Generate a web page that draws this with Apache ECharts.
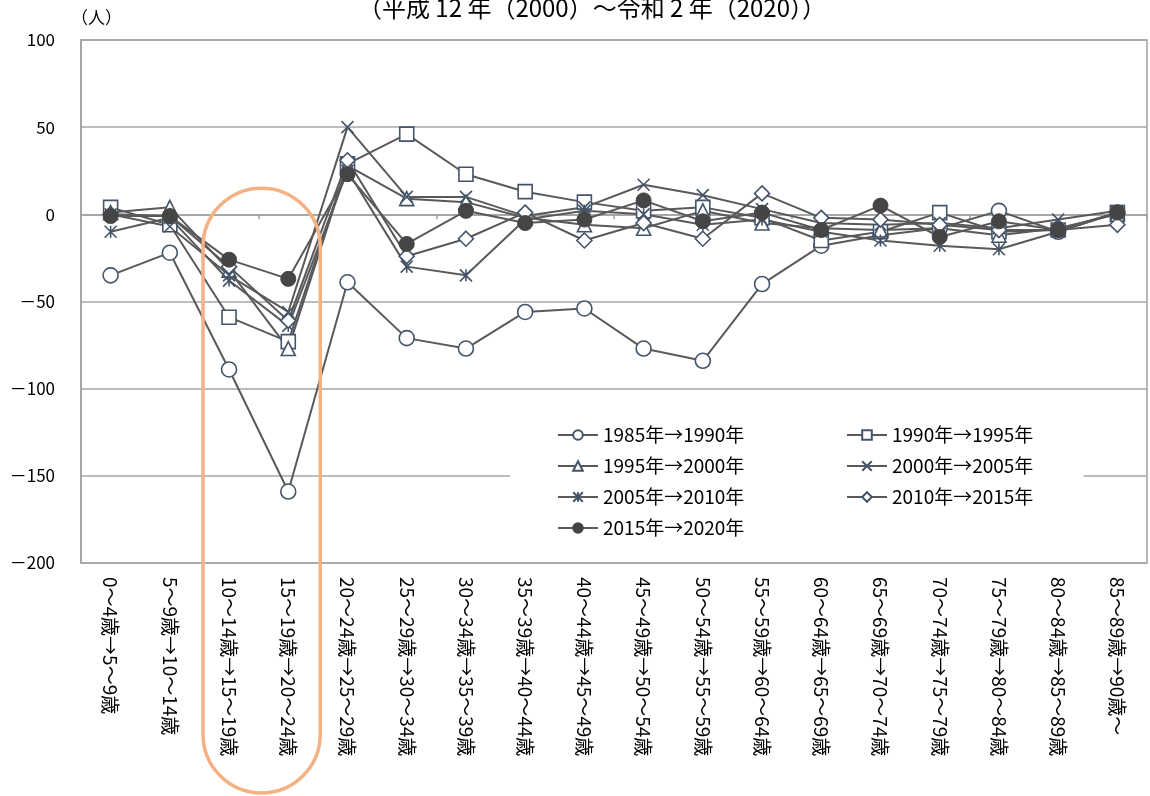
<!DOCTYPE html>
<html>
<head>
<meta charset="utf-8">
<script src="https://cdn.jsdelivr.net/npm/echarts@6/dist/echarts.min.js"></script>
<style>
html,body{margin:0;padding:0;background:#fff;}
#c{width:1150px;height:796px;}
</style>
</head>
<body>
<div id="c"></div>
<script>
const titleText = '（平成 12 年（2000）～令和 2 年（2020））';
const unitText = '（人）';
const categories = [
  '0～4歳→5～9歳','5～9歳→10～14歳','10～14歳→15～19歳','15～19歳→20～24歳',
  '20～24歳→25～29歳','25～29歳→30～34歳','30～34歳→35～39歳','35～39歳→40～44歳',
  '40～44歳→45～49歳','45～49歳→50～54歳','50～54歳→55～59歳','55～59歳→60～64歳',
  '60～64歳→65～69歳','65～69歳→70～74歳','70～74歳→75～79歳','75～79歳→80～84歳',
  '80～84歳→85～89歳','85～89歳→90歳～'
];
const seriesNames = ['1985年→1990年','1990年→1995年','1995年→2000年','2000年→2005年','2005年→2010年','2010年→2015年','2015年→2020年'];
const v1985 = [-35, -22, -89, -159, -39, -71, -77, -56, -54, -77, -84, -40, -18, -12, -8, 2, -10, 1];
const v1990 = [4, -6, -59, -73, 29, 46, 23, 13, 7, 2, 4, -2, -15, -10, 1, -10, -9, 1];
const v1995 = [1, 4, -32, -77, 28, 9, 7, -2, -6, -8, 2, -5, -8, -9, -8, -12, -8, 0];
const v2000 = [0, -7, -35, -56, 50, 10, 10, -1, 4, 17, 11, 3, -5, -6, -5, -8, -3, 2];
const v2005 = [-10, -2, -38, -64, 25, -30, -35, -3, 2, 0, -6, -3, -10, -15, -18, -20, -10, 1];
const v2010 = [0, -1, -30, -61, 31, -24, -14, 1, -15, -5, -14, 12, -2, -3, -6, -9, -9, -6];
const v2015 = [-1, -1, -26, -37, 23, -17, 2, -5, -3, 8, -4, 1, -9, 5, -13, -4, -9, 1];
const yMin = -200, yMax = 100, yStep = 50;
const highlightCats = [2, 3];

const lineCol = '#595959';
const mk = '#44546A';
const symX = 'path://M0,0L10,10M10,0L0,10';
const symAst = 'path://M0,0L10,10M10,0L0,10M5,0L5,10';

function mkSeries(name, data, symbol, size, filled) {
  return {
    name: name, type: 'line', data: data, symbol: symbol, symbolSize: size,
    showAllSymbol: true,
    lineStyle: {color: lineCol, width: 2},
    itemStyle: filled ? {color: '#454545', borderColor: '#454545', borderWidth: 1}
                      : {color: '#ffffff', borderColor: mk, borderWidth: 1.6},
    emphasis: {disabled: true},
    z: filled ? 5 : 3
  };
}

const chart = echarts.init(document.getElementById('c'), null, {renderer: 'canvas'});
const legendText = {fontSize: 19, color: '#000', fontFamily: '"Noto Sans CJK JP", sans-serif', lineHeight: 22};
const option = {
  animation: false,
  backgroundColor: '#fff',
  textStyle: {fontFamily: '"Noto Sans CJK JP", sans-serif'},
  title: {
    text: titleText, left: 587, textAlign: 'center', top: -9,
    textStyle: {fontSize: 24, fontWeight: 'normal', color: '#000'}
  },
  grid: {left: 81, right: 3, top: 40, bottom: 233, show: true, borderColor: '#a0a0a0', borderWidth: 1.5, containLabel: false},
  legend: [
    {data: [seriesNames[0], seriesNames[2], seriesNames[4], seriesNames[6]], orient: 'vertical', left: 510, top: 416,
     padding: [8, 100, 8, 47], itemGap: 9, itemWidth: 40, itemHeight: 12, backgroundColor: '#fff',
     textStyle: legendText, selectedMode: false},
    {data: [seriesNames[1], seriesNames[3], seriesNames[5]], orient: 'vertical', left: 836, top: 416,
     padding: [8, 50, 8, 10], itemGap: 9, itemWidth: 40, itemHeight: 12, backgroundColor: '#fff',
     textStyle: legendText, selectedMode: false}
  ],
  xAxis: [
    {type: 'category', data: categories, boundaryGap: true, position: 'bottom',
     axisLine: {show: false, onZero: false}, axisTick: {show: false},
     axisLabel: {rotate: -90, fontSize: 19, color: '#000', margin: 14, interval: 0}},
    {type: 'category', data: categories, boundaryGap: true,
     axisLine: {show: true, onZero: true, lineStyle: {color: '#a0a0a0', width: 1.5}},
     axisTick: {show: true, inside: true, length: 5, lineStyle: {color: '#a0a0a0', width: 1.5}},
     axisLabel: {show: false}}
  ],
  yAxis: {
    type: 'value', min: yMin, max: yMax, interval: yStep,
    name: unitText, nameLocation: 'end', nameGap: 14,
    nameTextStyle: {fontSize: 17, color: '#000', align: 'left', padding: [0, 0, 0, -10]},
    axisLine: {show: true, lineStyle: {color: '#a0a0a0', width: 1.5}},
    axisTick: {show: false},
    axisLabel: {fontSize: 17, color: '#000', margin: 26, formatter: v => String(v).replace('-', '－')},
    splitLine: {lineStyle: {color: '#a6a6a6', width: 1.5}}
  },
  series: [
    mkSeries(seriesNames[0], v1985, 'circle', 15, false),
    mkSeries(seriesNames[1], v1990, 'rect', 14, false),
    mkSeries(seriesNames[2], v1995, 'triangle', 14, false),
    mkSeries(seriesNames[3], v2000, symX, 12, false),
    mkSeries(seriesNames[4], v2005, symAst, 12, false),
    mkSeries(seriesNames[5], v2010, 'diamond', 15, false),
    mkSeries(seriesNames[6], v2015, 'circle', 15, true)
  ]
};
chart.setOption(option);

// highlight frame around selected categories
const pA = chart.convertToPixel({xAxisIndex: 0, yAxisIndex: 0}, [highlightCats[0], 15]);
const pB = chart.convertToPixel({xAxisIndex: 0, yAxisIndex: 0}, [highlightCats[1], 15]);
const half = (pB[0] - pA[0]) / 2;
const rx = pA[0] - half * 0.88;
const rw = (pB[0] + half * 1.08) - rx;
const ry = pA[1];
const rh = chart.getHeight() - 3 - ry;
chart.setOption({
  graphic: [{
    type: 'rect', z: 100, silent: true,
    shape: {x: rx, y: ry, width: rw, height: rh, r: rw / 2},
    style: {fill: 'none', stroke: '#F4B183', lineWidth: 3.5}
  }]
});
</script>
</body>
</html>
